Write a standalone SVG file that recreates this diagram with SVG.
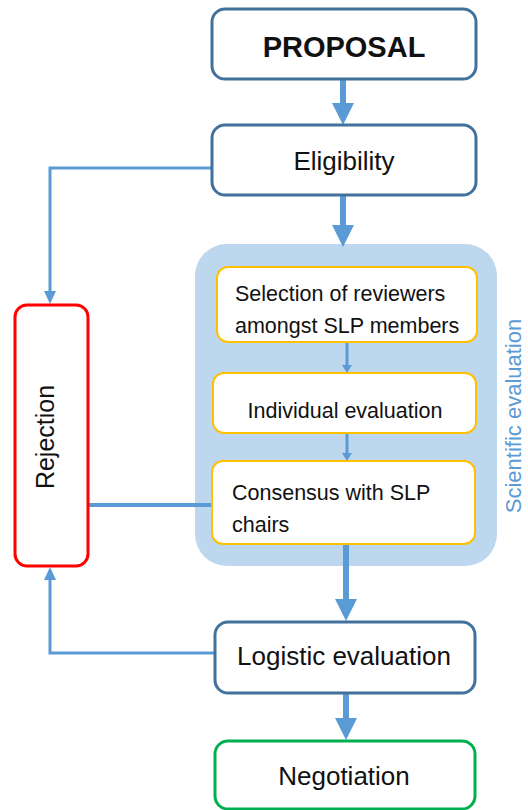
<svg xmlns="http://www.w3.org/2000/svg" width="528" height="810" viewBox="0 0 528 810">
<style>
.main{fill:#fff;stroke:#41719c;stroke-width:3}
.sub{fill:#fff;stroke:#ffc000;stroke-width:2}
.t{font-family:"Liberation Sans",Arial,sans-serif;fill:#111}
.c{stroke:#5b9bd5;fill:none}
</style>
<defs>
<marker id="big" viewBox="0 0 22 22" markerWidth="22" markerHeight="22" refX="0" refY="11" orient="auto" markerUnits="userSpaceOnUse"><path d="M0,0 L22,11 L0,22 z" fill="#5b9bd5"/></marker>
<marker id="mid" viewBox="0 0 13 12" markerWidth="13" markerHeight="12" refX="0" refY="6" orient="auto" markerUnits="userSpaceOnUse"><path d="M0,0 L13,6 L0,12 z" fill="#5b9bd5"/></marker>
<marker id="sm" viewBox="0 0 8 10" markerWidth="8" markerHeight="10" refX="0" refY="5" orient="auto" markerUnits="userSpaceOnUse"><path d="M0,0 L8,5 L0,10 z" fill="#5b9bd5"/></marker>
</defs>
<g id="scientific-evaluation">
<rect x="195" y="244" width="302" height="322" rx="32" fill="#bdd7ee"/>
<text class="t" transform="translate(521,416) rotate(-90)" text-anchor="middle" font-size="22" style="fill:#5b9bd5">Scientific evaluation</text>
</g>
<g id="connectors">
<line class="c" x1="343" y1="80" x2="343" y2="103" stroke-width="6" marker-end="url(#big)"/>
<line class="c" x1="343" y1="196" x2="343" y2="225" stroke-width="6" marker-end="url(#big)"/>
<line class="c" x1="347" y1="343" x2="347" y2="365" stroke-width="3" marker-end="url(#sm)"/>
<line class="c" x1="347" y1="434" x2="347" y2="453" stroke-width="3" marker-end="url(#sm)"/>
<line class="c" x1="346" y1="545" x2="346" y2="599" stroke-width="6" marker-end="url(#big)"/>
<line class="c" x1="346" y1="694" x2="346" y2="718" stroke-width="6" marker-end="url(#big)"/>
<path class="c" d="M212,168 H50 V291" stroke-width="3" marker-end="url(#mid)"/>
<path class="c" d="M215,653 H50 V580" stroke-width="3" marker-end="url(#mid)"/>
<line class="c" x1="88" y1="505" x2="212" y2="505" stroke-width="4"/>
</g>
<g id="proposal">
<rect class="main" x="212" y="9" width="264" height="70" rx="13"/>
<text class="t" x="344" y="57" text-anchor="middle" font-size="29" font-weight="bold">PROPOSAL</text>
</g>
<g id="eligibility">
<rect class="main" x="212" y="125" width="264" height="70" rx="13"/>
<text class="t" x="344" y="170" text-anchor="middle" font-size="26">Eligibility</text>
</g>
<g id="selection">
<rect class="sub" x="217" y="267" width="260" height="75" rx="11"/>
<text class="t" x="235" y="301" font-size="21.5">Selection of reviewers</text>
<text class="t" x="235" y="333" font-size="21.5">amongst SLP members</text>
</g>
<g id="individual">
<rect class="sub" x="213" y="373" width="263" height="60" rx="11"/>
<text class="t" x="345" y="418" text-anchor="middle" font-size="21.5">Individual evaluation</text>
</g>
<g id="consensus">
<rect class="sub" x="212" y="461" width="263" height="83" rx="11"/>
<text class="t" x="232" y="500" font-size="21.5">Consensus with SLP</text>
<text class="t" x="232" y="532" font-size="21.5">chairs</text>
</g>
<g id="rejection">
<rect x="15" y="305" width="73" height="261" rx="12" fill="#fff" stroke="#ff0000" stroke-width="3"/>
<text class="t" transform="translate(54,437) rotate(-90)" text-anchor="middle" font-size="25">Rejection</text>
</g>
<g id="logistic">
<rect class="main" x="215" y="622" width="260" height="71" rx="13"/>
<text class="t" x="344" y="665" text-anchor="middle" font-size="26">Logistic evaluation</text>
</g>
<g id="negotiation">
<rect x="215" y="741" width="260" height="68" rx="13" fill="#fff" stroke="#00b050" stroke-width="3"/>
<text class="t" x="344" y="785" text-anchor="middle" font-size="26">Negotiation</text>
</g>
</svg>
